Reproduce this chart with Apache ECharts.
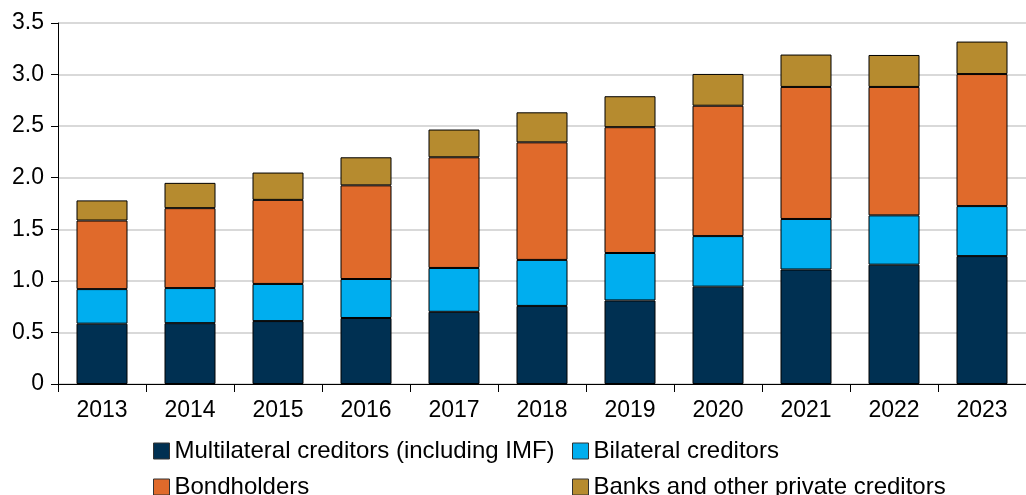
<!DOCTYPE html>
<html>
<head>
<meta charset="utf-8">
<script src="https://cdn.jsdelivr.net/npm/echarts@6/dist/echarts.min.js"></script>
<style>
  html, body { margin: 0; padding: 0; background: #fff; }
  #chart { width: 1026px; height: 495px; }
</style>
</head>
<body>
<div id="chart"></div>
<script>
// 初始化图表
var myChart = echarts.init(document.getElementById('chart'));

// data
var years = ['2013', '2014', '2015', '2016', '2017', '2018', '2019', '2020', '2021', '2022', '2023'];
var multilateral = [0.585, 0.59, 0.61, 0.64, 0.70, 0.757, 0.81, 0.944, 1.11, 1.157, 1.24];
var bilateral = [0.335, 0.34, 0.36, 0.378, 0.425, 0.446, 0.46, 0.49, 0.49, 0.478, 0.485];
var bondholders = [0.665, 0.775, 0.815, 0.908, 1.073, 1.14, 1.22, 1.264, 1.28, 1.245, 1.28];
var banks = [0.195, 0.245, 0.265, 0.272, 0.269, 0.291, 0.30, 0.308, 0.314, 0.31, 0.315];

var names = ['Multilateral creditors (including IMF)', 'Bilateral creditors', 'Bondholders', 'Banks and other private creditors'];
var colors = ['#003052', '#00AEEF', '#E06A2B', '#B68B2F'];
var values = [multilateral, bilateral, bondholders, banks];

var font = 'Liberation Sans, Arial, sans-serif';

var series = values.map(function (v, i) {
  return {
    name: names[i],
    type: 'bar',
    stack: 'total',
    barWidth: 51,
    data: v,
    itemStyle: { color: colors[i], borderColor: '#000', borderWidth: 1 }
  };
});

// one legend per item, 2 x 2 layout
var legendPos = [[153, 439], [572, 439], [153, 475], [572, 475]];
var legends = names.map(function (n, i) {
  return {
    left: legendPos[i][0],
    top: legendPos[i][1],
    padding: 0,
    data: [n],
    itemWidth: 16,
    itemHeight: 16,
    itemGap: 0,
    icon: 'rect',
    textStyle: { fontFamily: font, fontSize: 24, color: '#000' },
    itemStyle: { borderColor: '#333', borderWidth: 1 }
  };
});

var option = {
  animation: false,
  color: colors,
  grid: { left: 58, right: -12, top: 23, bottom: 111 },
  legend: legends,
  xAxis: {
    type: 'category',
    data: years,
    axisLine: { lineStyle: { color: '#000', width: 1 } },
    axisTick: { show: true, length: 8, lineStyle: { color: '#000' } },
    axisLabel: { fontFamily: font, fontSize: 23, color: '#000', margin: 15 }
  },
  yAxis: {
    type: 'value',
    min: 0,
    max: 3.5,
    interval: 0.5,
    axisLine: { show: true, lineStyle: { color: '#000', width: 1 } },
    axisTick: { show: true, length: 7, lineStyle: { color: '#000' } },
    axisLabel: {
      fontFamily: font, fontSize: 23, color: '#000', margin: 14,
      formatter: function (v) { return v === 0 ? '0' : v.toFixed(1); }
    },
    splitLine: { lineStyle: { color: '#cccccc', width: 1.5 } }
  },
  series: series
};

myChart.setOption(option);
</script>
</body>
</html>
